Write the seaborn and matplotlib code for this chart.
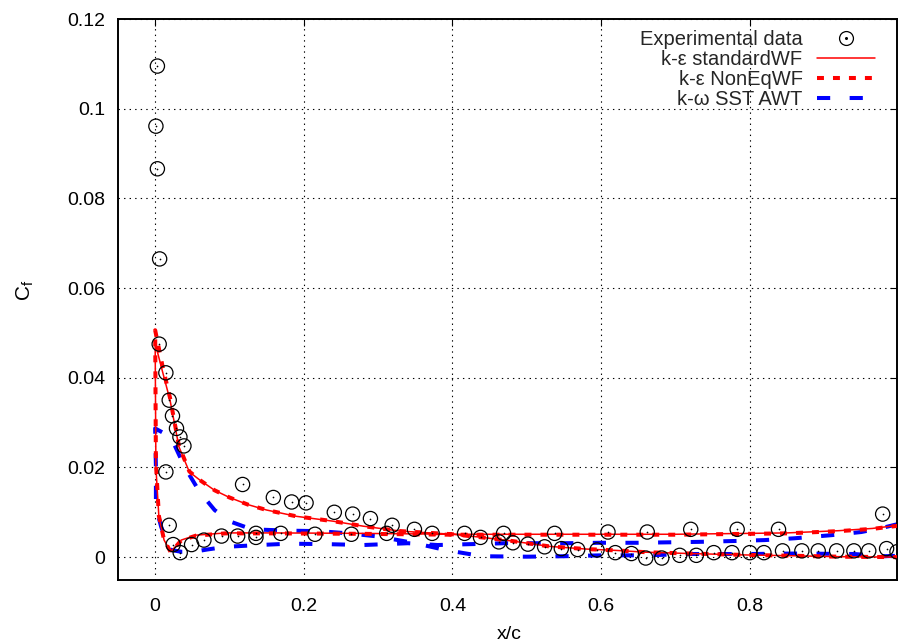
import numpy as np
import pandas as pd
import matplotlib
matplotlib.use("Agg")
import matplotlib.pyplot as plt
from matplotlib.lines import Line2D
import seaborn as sns

# ---------------- data ----------------
exp_x = [0.003, 0.001, 0.003, 0.006, 0.0054, 0.0144, 0.0189, 0.0233, 0.0287, 0.0333,
         0.0387, 0.0144, 0.0189, 0.0242, 0.0337, 0.049, 0.0656, 0.0893, 0.111, 0.1176,
         0.1356, 0.1356, 0.159, 0.169, 0.1836, 0.203, 0.215, 0.241, 0.264, 0.2657,
         0.2896, 0.3115, 0.3188, 0.3488, 0.3726, 0.4162, 0.4377, 0.4624, 0.4687, 0.4812,
         0.5014, 0.5239, 0.5374, 0.5464, 0.5684, 0.5944, 0.6092, 0.619, 0.6407, 0.66,
         0.662, 0.6815, 0.7057, 0.7205, 0.728, 0.7515, 0.776, 0.783, 0.80, 0.819,
         0.8386, 0.844, 0.870, 0.892, 0.9168, 0.940, 0.960, 0.9787, 0.984, 0.998]
exp_y = [0.1095, 0.0961, 0.0866, 0.0665, 0.0475, 0.0411, 0.0350, 0.0315, 0.0287, 0.0268,
         0.0248, 0.0190, 0.0071, 0.0028, 0.0010, 0.0028, 0.0038, 0.0047, 0.0047, 0.0162,
         0.0053, 0.0044, 0.0133, 0.0053, 0.0123, 0.0121, 0.0051, 0.0100, 0.0051, 0.0096,
         0.0086, 0.0053, 0.0071, 0.0062, 0.0053, 0.0053, 0.0044, 0.0034, 0.0053, 0.0032,
         0.0029, 0.0023, 0.0053, 0.0019, 0.0017, 0.0016, 0.0056, 0.0010, 0.0008, -0.0002,
         0.0056, -0.0002, 0.0004, 0.0062, 0.0004, 0.0010, 0.0010, 0.0062, 0.0010, 0.0010,
         0.0062, 0.0014, 0.0014, 0.0014, 0.0014, 0.0014, 0.0014, 0.0096, 0.0019, 0.0012]

# k-epsilon standard WF: pressure side (TE -> LE) then suction side (LE -> TE)
ske_x = [1.0, 0.965, 0.92, 0.85, 0.7, 0.55, 0.4, 0.275, 0.16, 0.095, 0.055, 0.035,
         0.021, 0.012, 0.005, 0.001, 0.0,
         0.01, 0.02, 0.032, 0.046, 0.06, 0.08, 0.10, 0.125, 0.15, 0.19, 0.24, 0.28,
         0.33, 0.40, 0.44, 0.48, 0.53, 0.58, 0.62, 0.66, 0.72, 0.79, 0.86, 0.92, 1.0]
ske_y = [0.0071, 0.0064, 0.0059, 0.0054, 0.0051, 0.0051, 0.0051, 0.0053, 0.0054, 0.0054,
         0.0049, 0.0038, 0.0012, 0.0038, 0.0090, 0.0200, 0.0477,
         0.0413, 0.0350, 0.0246, 0.0190, 0.0172, 0.0149, 0.0133, 0.0117, 0.0105, 0.0091,
         0.0080, 0.0069, 0.0058, 0.0051, 0.0044, 0.0036, 0.0024, 0.0018, 0.0015, 0.0011,
         0.0008, 0.0005, 0.0003, 0.0001, 0.0000]

# k-epsilon non-equilibrium WF
nke_x = [1.0, 0.965, 0.92, 0.85, 0.7, 0.55, 0.4, 0.275, 0.16, 0.095, 0.055, 0.035,
         0.021, 0.012, 0.005, 0.001, 0.0,
         0.01, 0.02, 0.032, 0.046, 0.06, 0.08, 0.10, 0.125, 0.15, 0.19, 0.24, 0.28,
         0.33, 0.40, 0.44, 0.48, 0.53, 0.58, 0.62, 0.66, 0.72, 0.79, 0.86, 0.92, 1.0]
nke_y = [0.0070, 0.0063, 0.0058, 0.0053, 0.0050, 0.0050, 0.0050, 0.0052, 0.0053, 0.0053,
         0.0048, 0.0037, 0.0011, 0.0038, 0.0092, 0.0210, 0.0506,
         0.0425, 0.0355, 0.0248, 0.0191, 0.0172, 0.0149, 0.0133, 0.0117, 0.0105, 0.0091,
         0.0080, 0.0069, 0.0058, 0.0051, 0.0044, 0.0036, 0.0024, 0.0018, 0.0015, 0.0011,
         0.0008, 0.0005, 0.0003, 0.0001, 0.0000]

# k-omega SST AWT
sst_x = [1.0, 0.98, 0.95, 0.91, 0.86, 0.82, 0.78, 0.73, 0.65, 0.6, 0.55, 0.47, 0.38,
         0.34, 0.28, 0.23, 0.18, 0.14, 0.095, 0.07, 0.052, 0.035, 0.021, 0.017, 0.008,
         0.001, 0.001, 0.0,
         0.021, 0.04, 0.06, 0.08, 0.10, 0.13, 0.18, 0.22, 0.26, 0.30, 0.35, 0.39, 0.44,
         0.50, 0.55, 0.60, 0.66, 0.72, 0.80, 0.86, 0.94, 0.98, 1.0]
sst_y = [0.0074, 0.0066, 0.0056, 0.0049, 0.0042, 0.0038, 0.0036, 0.0034, 0.0032, 0.0032,
         0.0031, 0.0031, 0.0027, 0.0031, 0.0027, 0.0029, 0.0030, 0.0027, 0.0023, 0.0017,
         0.0012, 0.0012, 0.0016, 0.0027, 0.0068, 0.0112, 0.0200, 0.0287,
         0.0268, 0.0200, 0.0145, 0.0105, 0.0080, 0.0062, 0.0059, 0.0058, 0.0053, 0.0046,
         0.0031, 0.0016, 0.0002, 0.0001, 0.0002, 0.0004, 0.0004, 0.0007, 0.0007, 0.0008,
         0.0007, 0.0002, 0.0003]

xticks = [0, 0.2, 0.4, 0.6, 0.8]
xtick_labels = ["0", "0.2", "0.4", "0.6", "0.8"]
yticks = [0, 0.02, 0.04, 0.06, 0.08, 0.1, 0.12]
ytick_labels = ["0", "0.02", "0.04", "0.06", "0.08", "0.1", "0.12"]

labels = ["Experimental data", "k-ε standardWF", "k-ε NonEqWF", "k-ω SST AWT"]

# ---------------- style ----------------
sns.set_theme(style="white")
plt.rcParams["font.family"] = ["Liberation Sans", "DejaVu Sans"]
plt.rcParams["lines.scale_dashes"] = False
plt.rcParams["mathtext.fontset"] = "custom"
plt.rcParams["mathtext.rm"] = "Liberation Sans"

fig = plt.figure(figsize=(8.99, 6.44), dpi=100)
ax = fig.add_axes([118 / 899, 1 - 580 / 644, (897 - 118) / 899, (580 - 19) / 644])

df_exp = pd.DataFrame({"x": exp_x, "y": exp_y})
df_ske = pd.DataFrame({"x": ske_x, "y": ske_y})
df_nke = pd.DataFrame({"x": nke_x, "y": nke_y})
df_sst = pd.DataFrame({"x": sst_x, "y": sst_y})

red_dot_dash = (0, (5.0, 6.5))
blue_dash = (0, (9.5, 14.0))

sns.lineplot(data=df_ske, x="x", y="y", sort=False, estimator=None, ax=ax,
             color="#ff0000", linewidth=1.1, zorder=3)
sns.lineplot(data=df_nke, x="x", y="y", sort=False, estimator=None, ax=ax,
             color="#ff0000", linewidth=2.9, linestyle=red_dot_dash, zorder=3)
sns.lineplot(data=df_sst, x="x", y="y", sort=False, estimator=None, ax=ax,
             color="#0000ff", linewidth=2.9, linestyle=blue_dash, zorder=2)
sns.scatterplot(data=df_exp, x="x", y="y", ax=ax, marker="o", s=105,
                facecolors="none", edgecolors="black", linewidths=0.9, zorder=4)
sns.scatterplot(data=df_exp, x="x", y="y", ax=ax, marker="o", s=1.5,
                color="black", linewidth=0, zorder=4)

ax.set_xlim(-0.05, 0.998)
ax.set_ylim(-0.0051, 0.12)
ax.set_xticks(xticks)
ax.set_xticklabels(xtick_labels)
ax.set_yticks(yticks)
ax.set_yticklabels(ytick_labels)

ax.grid(True, color="black", linestyle=(0, (1, 3)), linewidth=0.8)
ax.set_axisbelow(True)
for s in ax.spines.values():
    s.set_visible(True)
    s.set_color("black")
    s.set_linewidth(1.4)
ax.tick_params(direction="in", length=5, width=0.8, colors="black",
               top=True, right=True, labelsize=14, pad=9)
ax.tick_params(axis="x", pad=13)
for lab in ax.get_xticklabels() + ax.get_yticklabels():
    lab.set_color("black")

ax.set_xlabel("x/c", fontsize=14, color="black")
ax.set_ylabel("C$_{\\mathrm{f}}$", fontsize=15, color="black")
ax.xaxis.set_label_coords(0.502, -0.082)
ax.yaxis.set_label_coords(-0.105, 0.517)

h_exp = (Line2D([], [], marker="o", markersize=10, markerfacecolor="none",
                markeredgecolor="black", markeredgewidth=0.9, linestyle="none"),
         Line2D([], [], marker="o", markersize=1.2, color="black", linestyle="none"))
h_ske = Line2D([], [], color="#ff0000", linewidth=1.1)
h_nke = Line2D([], [], color="#ff0000", linewidth=2.9, linestyle=red_dot_dash)
h_sst = Line2D([], [], color="#0000ff", linewidth=2.9, linestyle=blue_dash)
leg = ax.legend([h_exp, h_ske, h_nke, h_sst], labels, loc="upper right",
                markerfirst=False, frameon=False, fontsize=14.5, handlelength=2.9,
                handletextpad=0.7, labelspacing=0.06, borderaxespad=0.0,
                borderpad=0.0, numpoints=1, bbox_to_anchor=(0.9718, 0.981))
for t in leg.get_texts():
    t.set_ha("right")
leg.set_zorder(5)

fig.savefig("out.png", dpi=100)
